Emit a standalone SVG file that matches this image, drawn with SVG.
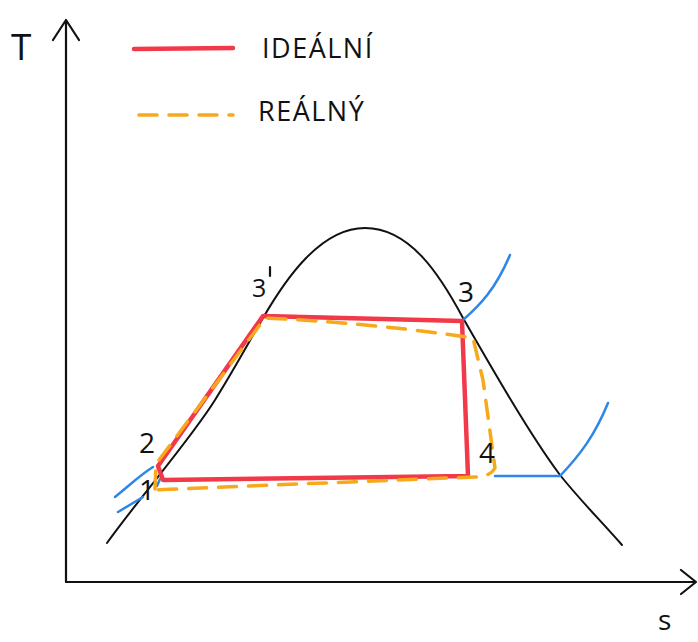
<svg xmlns="http://www.w3.org/2000/svg" width="698" height="642" viewBox="0 0 698 642">
<style>
.ax{fill:none;stroke:#111;stroke-width:2.2;stroke-linecap:round;stroke-linejoin:round}
.dome{fill:none;stroke:#111;stroke-width:2;stroke-linecap:round}
.ideal{fill:none;stroke:#f2394a;stroke-width:4.5;stroke-linecap:round;stroke-linejoin:round}
.real{fill:none;stroke:#f7a81b;stroke-width:3.5;stroke-linecap:round;stroke-linejoin:round;stroke-dasharray:18 12}
.blue{fill:none;stroke:#2e86e8;stroke-width:2.5;stroke-linecap:round;stroke-linejoin:round}
.lbl{font-family:"Open Sans","DejaVu Sans",sans-serif;font-size:28px;fill:#111}
.leg{font-family:"Open Sans","DejaVu Sans",sans-serif;font-size:27px;fill:#111;letter-spacing:1.5px}
</style>
<g id="axes">
<path class="ax" d="M66,582 L66,20 M53,40 L66,20 L79,40"/>
<path class="ax" d="M66,582 L696,582 M681,570 L696,582 L681,594"/>
<text class="lbl" x="11" y="60" style="font-size:37px">T</text>
<text class="lbl" x="658" y="630">s</text>
</g>
<g id="legend">
<path class="ideal" d="M134,49 L233,48"/>
<text class="leg" x="262" y="58">IDEÁLNÍ</text>
<path class="real" d="M139,115 L233,115" stroke-dasharray="18 17"/>
<text class="leg" x="258" y="121">REÁLNÝ</text>
</g>
<g id="dome">
<path class="dome" d="M107,543 C140,497 190,440 215,400 C235,368 250,340 263,318 C285,280 320,228 365,228 C410,228 440,275 463,318 C490,365 530,435 560,475 C580,500 600,520 622,545"/>
</g>
<g id="isobars">
<path class="blue" d="M463,320 C480,305 495,290 510,255"/>
<path class="blue" d="M495,476 L560,476 C580,455 595,435 608,403"/>
<path class="blue" d="M115,497 C130,485 140,475 153,467"/>
<path class="blue" d="M118,512 L143,497"/>
<path class="blue" d="M160,479 L157,486"/>
</g>
<g id="ideal-cycle">
<path class="ideal" d="M163,480 L158,466 L263,316 L462,321 L468,476 Q320,478 163,480 Z"/>
</g>
<g id="real-cycle">
<path class="real" d="M155,489 L156,464 L265,318 C350,322 420,330 473,338 L483,380 L495,468 Q490,477 475,477 Q320,483 155,490"/>
</g>
<g id="labels">
<text class="lbl" x="139" y="453">2</text>
<text class="lbl" x="139" y="500">1</text>
<text class="lbl" x="252" y="297" style="font-size:25px">3</text>
<path class="ax" d="M270,267 L270,276" stroke-width="1.8"/>
<text class="lbl" x="458" y="302">3</text>
<text class="lbl" x="479" y="463">4</text>
</g>
</svg>
